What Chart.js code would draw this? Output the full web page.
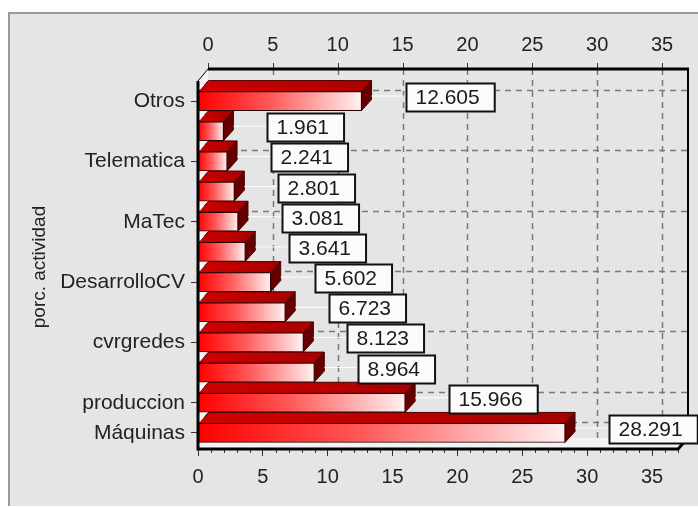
<!DOCTYPE html>
<html>
<head>
<meta charset="utf-8">
<script src="https://cdn.jsdelivr.net/npm/chart.js@4"></script>
<style>
  body { margin: 0; background: #fff; }
</style>
</head>
<body>
<canvas id="actividad" width="698" height="508"></canvas>
<script>
// datos
var categorias = ['Otros', '', 'Telematica', '', 'MaTec', '', 'DesarrolloCV', '', 'cvrgredes', '', 'produccion', 'Máquinas'];
var valores = [12.605, 1.961, 2.241, 2.801, 3.081, 3.641, 5.602, 6.723, 8.123, 8.964, 15.966, 28.291];
var ejeMax = 37;
var ejeTicks = [0, 5, 10, 15, 20, 25, 30, 35];

var DX = 10, DY = 11;   // profundidad 3D
var fuente = 'Liberation Sans, Arial, sans-serif';

// panel gris + caja 3D + rejilla del fondo
var fondo3d = {
    id: 'fondo3d',
    beforeDraw: function (chart) {
        var c = chart.ctx;
        c.save();
        c.fillStyle = '#ffffff';
        c.fillRect(0, 0, chart.width, chart.height);
        c.fillStyle = '#e5e5e5';
        c.fillRect(8, 12, chart.width - 8, 494);
        c.strokeStyle = '#9a9a9a';
        c.lineWidth = 2;
        c.beginPath();
        c.moveTo(9, 506); c.lineTo(9, 13); c.lineTo(chart.width, 13);
        c.stroke();
        c.restore();
    },
    beforeDatasetsDraw: function (chart) {
        var c = chart.ctx, a = chart.chartArea;
        var xs = chart.scales.x, ys = chart.scales.y;
        var L = a.left, R = a.right, B = a.bottom + 1, T = a.top - 5;
        var top = T - DY - 1;
        c.save();
        // pared izquierda y suelo
        c.fillStyle = '#f3f3f3';
        c.beginPath();
        c.moveTo(L, T); c.lineTo(L + DX, top); c.lineTo(L + DX, B - DY); c.lineTo(L, B);
        c.closePath(); c.fill();
        c.beginPath();
        c.moveTo(L, B); c.lineTo(L + DX, B - DY); c.lineTo(R + DX, B - DY); c.lineTo(R, B);
        c.closePath(); c.fill();

        // rejilla discontinua
        c.strokeStyle = '#7a7a7a';
        c.lineWidth = 1.5;
        c.setLineDash([6, 5]);
        ejeTicks.forEach(function (v) {
            if (v === 0) return;
            var x = Math.round(xs.getPixelForValue(v)) + DX + 0.5;
            c.beginPath(); c.moveTo(x, top); c.lineTo(x, B - DY); c.stroke();
        });
        categorias.forEach(function (lab, i) {
            if (!lab) return;
            var y = Math.round(ys.getPixelForValue(i)) - DY + 0.5;
            c.beginPath(); c.moveTo(L + DX, y); c.lineTo(R + DX, y); c.stroke();
        });
        c.setLineDash([]);

        // marcas eje superior
        c.strokeStyle = '#333';
        c.lineWidth = 1;
        ejeTicks.forEach(function (v) {
            var x = Math.round(xs.getPixelForValue(v)) + DX + 0.5;
            c.beginPath(); c.moveTo(x, top - 6); c.lineTo(x, top); c.stroke();
        });
        // marcas menores eje inferior
        for (var v = 1; v <= ejeMax; v++) {
            if (v % 5 === 0) continue;
            var x = Math.round(xs.getPixelForValue(v)) + 0.5;
            c.beginPath(); c.moveTo(x, B); c.lineTo(x, B + 4); c.stroke();
        }

        // caras superior y lateral de las barras
        var meta = chart.getDatasetMeta(0);
        meta.data.forEach(function (bar) {
            var p = bar.getProps(['x', 'y', 'base', 'height'], true);
            var y0 = p.y - p.height / 2, y1 = p.y + p.height / 2;
            var x0 = p.base, x1 = p.x;
            var g = c.createLinearGradient(x0, 0, x1 + DX, 0);
            g.addColorStop(0, '#d00000');
            g.addColorStop(1, '#a80000');
            c.fillStyle = g;
            c.strokeStyle = '#4a0000';
            c.lineWidth = 1;
            c.beginPath();
            c.moveTo(x0, y0); c.lineTo(x0 + DX, y0 - DY); c.lineTo(x1 + DX, y0 - DY); c.lineTo(x1, y0);
            c.closePath(); c.fill(); c.stroke();
            c.fillStyle = '#660000';
            c.beginPath();
            c.moveTo(x1, y0); c.lineTo(x1 + DX, y0 - DY); c.lineTo(x1 + DX, y1 - DY); c.lineTo(x1, y1);
            c.closePath(); c.fill(); c.stroke();
            // pequeño triangulo claro junto a la pared
            c.fillStyle = '#ffffff';
            c.beginPath();
            c.moveTo(x0 + 1, y0 - 1); c.lineTo(x0 + 6, y0 - 7); c.lineTo(x0 + 1, y0 - 7);
            c.closePath(); c.fill();
        });

        // bordes gruesos de la caja
        c.strokeStyle = '#000';
        c.lineWidth = 3;
        c.beginPath(); c.moveTo(L + DX, top); c.lineTo(R + DX + 1, top); c.stroke();
        c.lineWidth = 2;
        c.beginPath(); c.moveTo(R + DX, top); c.lineTo(R + DX, B - DY); c.stroke();
        c.lineWidth = 1;
        c.beginPath(); c.moveTo(L, T); c.lineTo(L + DX, top); c.stroke();
        c.restore();
    },
    afterDatasetsDraw: function (chart) {
        var c = chart.ctx, a = chart.chartArea;
        var L = a.left, R = a.right, B = a.bottom + 1, T = a.top - 5;
        c.save();
        c.strokeStyle = '#000';
        c.lineWidth = 3;
        c.beginPath(); c.moveTo(L, T); c.lineTo(L, B); c.lineTo(R, B); c.lineTo(R + DX, B - DY); c.stroke();

        // etiquetas de valor
        c.font = '21px ' + fuente;
        c.textBaseline = 'middle';
        var meta = chart.getDatasetMeta(0);
        meta.data.forEach(function (bar, i) {
            var p = bar.getProps(['x', 'y'], true);
            var txt = valores[i].toFixed(3);
            var w = c.measureText(txt).width + 24;
            var bx = Math.round(p.x + 44) + 0.5, by = Math.round(p.y - 18) + 0.5;
            c.strokeStyle = '#ffffff';
            c.lineWidth = 1;
            c.beginPath(); c.moveTo(p.x + DX, p.y - 5); c.lineTo(bx, p.y - 5); c.stroke();
            c.fillStyle = '#fbfbfb';
            c.fillRect(bx, by, w, 28);
            c.strokeStyle = '#111';
            c.lineWidth = 2;
            c.strokeRect(bx, by, w, 28);
            c.fillStyle = '#1a1a1a';
            c.fillText(txt, bx + 9, by + 15);
        });
        c.restore();
    }
};

var ctx = document.getElementById('actividad');
var grafico = new Chart(ctx, {
    type: 'bar',
    data: {
        labels: categorias,
        datasets: [{
            label: 'porc. actividad',
            data: valores,
            barThickness: 19,
            borderWidth: 1,
            borderColor: '#2a0000',
            backgroundColor: function (context) {
                var chart = context.chart;
                if (!chart.chartArea || context.parsed === undefined) return '#ff0000';
                var xs = chart.scales.x;
                var x0 = xs.getPixelForValue(0), x1 = xs.getPixelForValue(context.parsed.x);
                var g = chart.ctx.createLinearGradient(x0, 0, x1, 0);
                g.addColorStop(0, '#ff0000');
                g.addColorStop(0.45, '#ff5a5a');
                g.addColorStop(1, '#fff2f2');
                return g;
            }
        }]
    },
    options: {
        indexAxis: 'y',
        responsive: false,
        animation: false,
        layout: { padding: { left: 0, right: 20, top: 0, bottom: 0 } },
        plugins: {
            legend: { display: false },
            tooltip: { enabled: false }
        },
        scales: {
            x: {
                position: 'bottom',
                min: 0,
                max: ejeMax,
                afterFit: function (s) { s.height = 60; },
                afterBuildTicks: function (s) { s.ticks = ejeTicks.map(function (v) { return { value: v }; }); },
                border: { display: false },
                grid: { drawOnChartArea: false, drawTicks: true, tickLength: 8, color: '#333' },
                ticks: { color: '#222', font: { family: fuente, size: 20 }, padding: 9 }
            },
            x2: {
                position: 'top',
                axis: 'x',
                min: 0,
                max: ejeMax,
                afterFit: function (s) { s.height = 86; },
                afterBuildTicks: function (s) { s.ticks = ejeTicks.map(function (v) { return { value: v }; }); },
                border: { display: false },
                grid: { display: false, drawTicks: false, tickLength: 0 },
                ticks: { color: '#222', font: { family: fuente, size: 20 }, padding: 29, labelOffset: DX }
            },
            y: {
                afterFit: function (s) { s.width = 198; },
                border: { display: false },
                grid: {
                    offset: false,
                    drawOnChartArea: false,
                    tickLength: 7,
                    color: function (c) { return categorias[c.index] ? '#333' : 'rgba(0,0,0,0)'; }
                },
                ticks: {
                    autoSkip: false,
                    color: '#222',
                    padding: 6,
                    font: { family: fuente, size: 21 }
                },
                title: {
                    display: true,
                    text: 'porc. actividad',
                    color: '#222',
                    font: { family: fuente, size: 19 },
                    padding: { top: 28, bottom: 0 }
                }
            }
        }
    },
    plugins: [fondo3d]
});
</script>
</body>
</html>
